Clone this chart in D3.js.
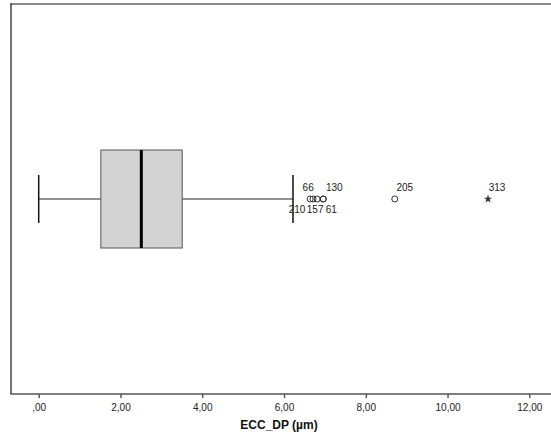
<!DOCTYPE html>
<html lang="es">
<head>
<meta charset="utf-8">
<title>ECC_DP boxplot</title>
<script src="https://d3js.org/d3.v7.min.js"></script>
<style>
	body { margin: 0; background: #fff; }
	svg { display: block; font-family: "Liberation Sans", Arial, sans-serif; }
</style>
</head>
<body>
<script>
// summary values
const boxStats = { min: 0.0, q1: 1.52, median: 2.51, q3: 3.51, max: 6.22 };
const outlierValues = [6.64, 6.71, 6.81, 6.96, 6.96, 8.71];
const outlierIds = ['66', '210', '157', '130', '61', '205'];
const extremeValues = [10.99];
const extremeIds = ['313'];
const tickValues = [0, 2, 4, 6, 8, 10, 12];
const axisTitle = 'ECC_DP (\u00b5m)';

// label placement: side (-1 above, 1 below) and small x nudge
const outlierLabelSide = [-1, 1, 1, -1, 1, -1];
const outlierLabelDx = [-2, -16, -2, 11, 8, 10];
const extremeLabelDx = [9];

const W = 551, H = 439;
const frame = { left: 11, top: 4, bottom: 394 };
const cy = 199;

const svg = d3.select('body').append('svg')
	.attr('width', W)
	.attr('height', H);

// 0 -> 38.7px, 12 -> 529.3px
const x = d3.scaleLinear().domain([0, 12]).range([38.7, 529.3]);

// frame
svg.append('line')
	.attr('x1', frame.left).attr('x2', W)
	.attr('y1', frame.top).attr('y2', frame.top)
	.attr('stroke', '#8a8a8a').attr('stroke-width', 2);
svg.append('line')
	.attr('x1', frame.left).attr('x2', frame.left)
	.attr('y1', frame.top - 1).attr('y2', frame.bottom)
	.attr('stroke', '#444').attr('stroke-width', 1.5);

// x axis
const axis = d3.axisBottom(x)
	.tickValues(tickValues)
	.tickSize(4)
	.tickPadding(6)
	.tickFormat(d => d === 0 ? ',00' : d3.format('.2f')(d).replace('.', ','));

const gx = svg.append('g')
	.attr('transform', 'translate(0,' + frame.bottom + ')')
	.call(axis);
gx.select('.domain').remove();
gx.selectAll('.tick line').attr('stroke', '#444').attr('stroke-width', 1.3);
gx.selectAll('.tick text').attr('font-size', 10).attr('fill', '#222')
	.attr('font-family', '"Liberation Sans", Arial, sans-serif');
svg.append('line')
	.attr('x1', frame.left - 0.75).attr('x2', W)
	.attr('y1', frame.bottom).attr('y2', frame.bottom)
	.attr('stroke', '#555').attr('stroke-width', 1.5);

svg.append('text')
	.attr('x', 279)
	.attr('y', 429)
	.attr('text-anchor', 'middle')
	.attr('font-size', 12)
	.attr('font-weight', 'bold')
	.attr('fill', '#111')
	.text(axisTitle);

// whiskers
const g = svg.append('g');
g.append('line')
	.attr('x1', x(boxStats.min)).attr('x2', x(boxStats.q1))
	.attr('y1', cy).attr('y2', cy)
	.attr('stroke', '#222').attr('stroke-width', 1);
g.append('line')
	.attr('x1', x(boxStats.q3)).attr('x2', x(boxStats.max))
	.attr('y1', cy).attr('y2', cy)
	.attr('stroke', '#222').attr('stroke-width', 1);
[boxStats.min, boxStats.max].forEach(v => {
	g.append('line')
		.attr('x1', x(v)).attr('x2', x(v))
		.attr('y1', 175).attr('y2', 223)
		.attr('stroke', '#111').attr('stroke-width', 1.5);
});

// box
g.append('rect')
	.attr('x', x(boxStats.q1))
	.attr('y', 150)
	.attr('width', x(boxStats.q3) - x(boxStats.q1))
	.attr('height', 98)
	.attr('fill', '#d3d3d3')
	.attr('stroke', '#555')
	.attr('stroke-width', 1);
g.append('line')
	.attr('x1', x(boxStats.median)).attr('x2', x(boxStats.median))
	.attr('y1', 150).attr('y2', 248)
	.attr('stroke', '#000').attr('stroke-width', 3);

// outliers
g.selectAll('circle.out')
	.data(outlierValues)
	.enter()
	.append('circle')
	.attr('class', 'out')
	.attr('cx', d => x(d))
	.attr('cy', cy)
	.attr('r', 3)
	.attr('fill', 'none')
	.attr('stroke', '#333')
	.attr('stroke-width', 1);

g.selectAll('text.outlbl')
	.data(outlierIds)
	.enter()
	.append('text')
	.attr('class', 'outlbl')
	.attr('x', (d, i) => x(outlierValues[i]) + outlierLabelDx[i])
	.attr('y', (d, i) => outlierLabelSide[i] < 0 ? cy - 8 : cy + 14)
	.attr('text-anchor', 'middle')
	.attr('font-size', 10)
	.attr('fill', '#222')
	.text(d => d);

// extremes
const star = d3.symbol().type(d3.symbolStar).size(22);
g.selectAll('path.ext')
	.data(extremeValues)
	.enter()
	.append('path')
	.attr('class', 'ext')
	.attr('d', star)
	.attr('transform', d => 'translate(' + x(d) + ',' + cy + ')')
	.attr('fill', '#333');

g.selectAll('text.extlbl')
	.data(extremeIds)
	.enter()
	.append('text')
	.attr('class', 'extlbl')
	.attr('x', (d, i) => x(extremeValues[i]) + extremeLabelDx[i])
	.attr('y', cy - 8)
	.attr('text-anchor', 'middle')
	.attr('font-size', 10)
	.attr('fill', '#222')
	.text(d => d);
</script>
</body>
</html>
